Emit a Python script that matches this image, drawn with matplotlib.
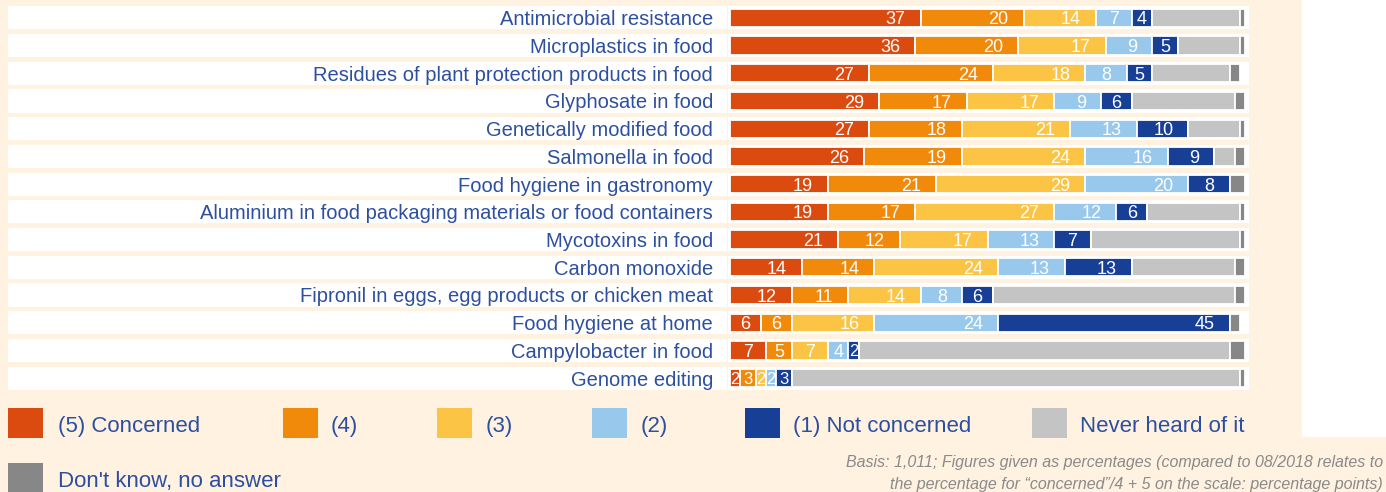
import matplotlib
matplotlib.use("Agg")
import matplotlib.pyplot as plt
from matplotlib.patches import Rectangle
import numpy as np

topics = ["Antimicrobial resistance", "Microplastics in food",
          "Residues of plant protection products in food", "Glyphosate in food",
          "Genetically modified food", "Salmonella in food",
          "Food hygiene in gastronomy",
          "Aluminium in food packaging materials or food containers",
          "Mycotoxins in food", "Carbon monoxide",
          "Fipronil in eggs, egg products or chicken meat",
          "Food hygiene at home", "Campylobacter in food", "Genome editing"]

concerned5 = [37, 36, 27, 29, 27, 26, 19, 19, 21, 14, 12, 6, 7, 2]
level4 = [20, 20, 24, 17, 18, 19, 21, 17, 12, 14, 11, 6, 5, 3]
level3 = [14, 17, 18, 17, 21, 24, 29, 27, 17, 24, 14, 16, 7, 2]
level2 = [7, 9, 8, 9, 13, 16, 20, 12, 13, 13, 8, 24, 4, 2]
not_concerned1 = [4, 5, 5, 6, 10, 9, 8, 6, 7, 13, 6, 45, 2, 3]
never_heard = [17, 12, 15, 20, 10, 4, 0, 18, 29, 20, 47, 0, 72, 87]
dont_know = [1, 1, 2, 2, 1, 2, 3, 1, 1, 2, 2, 2, 3, 1]
changes = ["(\u201311)", "(\u00b10)", "(\u20133)", "(\u00b10)", "(\u20135)", "(\u20138)",
           "(\u20134)", "(\u20139)", "(\u201311)", "(\u20139)", "(\u201310)", "(\u20134)",
           "(+3)", "(\u00b10)"]

legend_labels = ["(5) Concerned", "(4)", "(3)", "(2)", "(1) Not concerned",
                 "Never heard of it", "Don't know, no answer"]
colors = ["#DB4A0F", "#F18A0A", "#FCC444", "#98C8EC", "#173F96", "#C4C4C4", "#878787"]

cream = "#FFF2E1"
blue_txt = "#2D4F9F"
plt.rcParams["font.family"] = ["Liberation Sans", "DejaVu Sans"]

W, H = 1386, 492
fig = plt.figure(figsize=(W / 100, H / 100), dpi=100, facecolor=cream)

# white panel on the right for the change column
fig.patches.append(Rectangle((1302 / W, 1 - 437 / H), 84 / W, 437 / H,
                             transform=fig.transFigure, facecolor="white",
                             edgecolor="none", zorder=0))

ax = fig.add_axes([730 / W, 1 - 392 / H, 515 / W, 388 / H])
ax.set_facecolor("none")
ax.set_xlim(0, 100)
ax.set_ylim(13.5, -0.5)
ax.axis("off")

y = np.arange(len(topics))
px = 100 / 515  # one pixel in percent units

# white row stripes (labels and bars)
ax.barh(y, 719 * px, left=-722 * px, height=0.83, color="white", zorder=0, clip_on=False)
ax.barh(y, 521 * px, left=-2 * px, height=0.83, color="white", zorder=0, clip_on=False)

series = [concerned5, level4, level3, level2, not_concerned1, never_heard, dont_know]
left = np.zeros(len(topics))
for k, vals in enumerate(series):
    vals = np.array(vals, dtype=float)
    ax.barh(y, vals, left=left, height=0.66, color=colors[k],
            edgecolor="white", linewidth=1.3, zorder=2)
    if k < 5:
        for i, v in enumerate(vals):
            # numbers sit near the right end of the segment, centred if it is short
            half = len(str(int(v))) * 5 * px
            xc = max(left[i] + v - 15 * px - half, left[i] + v / 2)
            ax.text(xc, y[i], f"{int(v)}", ha="center", va="center_baseline",
                    color="white", fontsize=13 if v >= 4 else 12, zorder=3)
    left += vals

for i, t in enumerate(topics):
    ax.text(-17 * px, y[i], t, ha="right", va="center_baseline", color=blue_txt,
            fontsize=14.5, clip_on=False)
    ax.text(100 + 100 * px, y[i], changes[i], ha="center", va="center_baseline",
            color="#8A8A8A", fontsize=17.5, clip_on=False)

# legend
leg_boxes = [8, 283, 437, 592, 745, 1032, 8]
leg_text = [58, 331, 486, 641, 793, 1080, 58]
leg_rows = [408, 408, 408, 408, 408, 408, 463]
for k in range(7):
    fig.patches.append(Rectangle((leg_boxes[k] / W, 1 - (leg_rows[k] + 30) / H),
                                 35 / W, 30 / H, transform=fig.transFigure,
                                 facecolor=colors[k], edgecolor="none"))
    fig.text(leg_text[k] / W, 1 - (leg_rows[k] + 16) / H, legend_labels[k],
             ha="left", va="center_baseline", color=blue_txt, fontsize=16)

fig.text(1383 / W, 1 - 461 / H,
         "Basis: 1,011; Figures given as percentages (compared to 08/2018 relates to",
         ha="right", va="center_baseline", color="#8A8A8A", fontsize=11.5, style="italic")
fig.text(1383 / W, 1 - 483 / H,
         "the percentage for \u201cconcerned\u201d/4 + 5 on the scale: percentage points)",
         ha="right", va="center_baseline", color="#8A8A8A", fontsize=11.5, style="italic")

fig.savefig("out.png", dpi=100, facecolor=cream)
